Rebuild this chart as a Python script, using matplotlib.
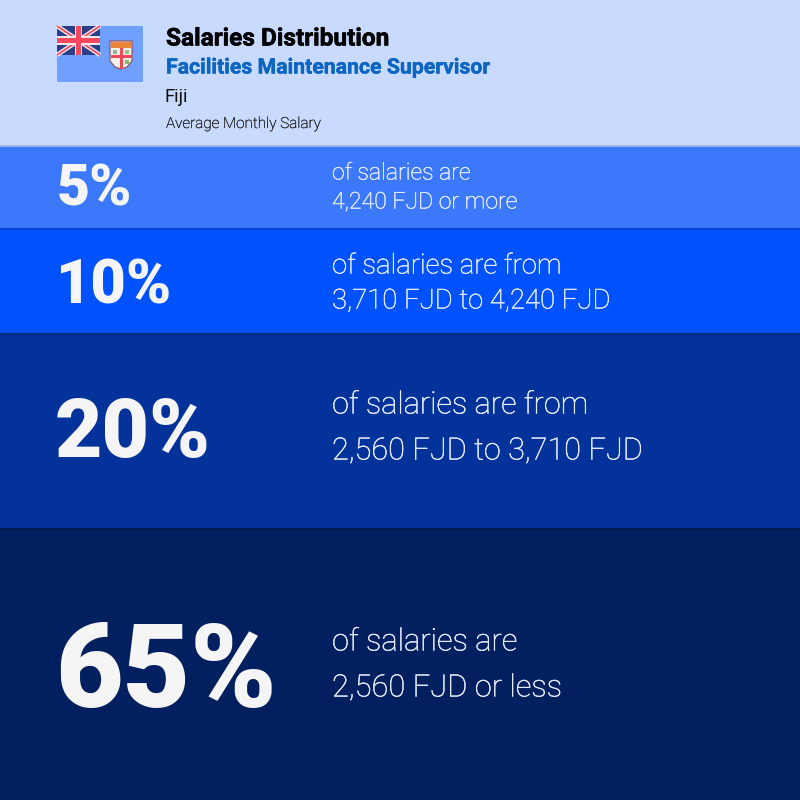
# -*- coding: utf-8 -*-
import matplotlib
matplotlib.use('Agg')
import matplotlib.pyplot as plt
import matplotlib.patheffects as pe
from matplotlib.patches import Rectangle, FancyBboxPatch, Polygon
from matplotlib.lines import Line2D

plt.rcParams['font.family'] = ['Roboto', 'DejaVu Sans']

# %% data
percents = ['5%', '10%', '20%', '65%']
line1 = ['of salaries are', 'of salaries are from', 'of salaries are from', 'of salaries are']
line2 = ['4,240 FJD or more', '3,710 FJD to 4,240 FJD', '2,560 FJD to 3,710 FJD', '2,560 FJD or less']
title = 'Salaries Distribution'
job = 'Facilities Maintenance Supervisor'
country = 'Fiji'
subtitle = 'Average Monthly Salary'

# %% layout, in pixels of the 800x800 picture
band_top = [146, 228, 333, 528]
band_bottom = [228, 333, 528, 800]
band_colors = ['#3b78fb', '#0052fe', '#03329b', '#02205f']
pct_sizes = [41, 44, 59, 84]
pct_x = [57, 55, 55, 55]
pct_y = [190, 287, 435, 675]
text_sizes = [16.6, 19.8, 22.1, 22.2]
line1_y = [173, 266, 405, 642]
line2_y = [202, 301, 451, 688]
text_color = '#e8eefb'

fig = plt.figure(figsize = (8, 8), dpi = 100)
ax = fig.add_axes([0, 0, 1, 1])
ax.set_xlim(0, 800)
ax.set_ylim(800, 0)
ax.axis('off')

# header
ax.add_patch(Rectangle((0, 0), 800, 146, color = '#c9daff', lw = 0))
ax.add_line(Line2D([0, 800], [146, 146], color = '#a9b9de', lw = 1.2, zorder = 5))

# bands
for i in range(len(percents)):
    ax.add_patch(Rectangle((0, band_top[i]), 800, band_bottom[i] - band_top[i], color = band_colors[i], lw = 0))
    if i > 0:
        ax.add_line(Line2D([0, 800], [band_top[i] + 0.5, band_top[i] + 0.5], color = 'black', lw = 1.5, alpha = 0.15, zorder = 5))
    ax.text(pct_x[i], pct_y[i], percents[i], color = '#f5f5f5', fontsize = pct_sizes[i], fontweight = 'black', va = 'center', ha = 'left')
    # light weight comes out too thin, a small stroke brings it closer
    for s, y in ((line1[i], line1_y[i]), (line2[i], line2_y[i])):
        t = ax.text(332, y, s, color = text_color, fontsize = text_sizes[i], fontweight = 'light', va = 'center', ha = 'left')
        t.set_path_effects([pe.Stroke(linewidth = 0.3, foreground = text_color), pe.Normal()])

# header text
t = ax.text(166, 39, title, color = 'black', fontsize = 17.6, fontweight = 'bold', va = 'center')
t.set_path_effects([pe.Stroke(linewidth = 0.4, foreground = 'black'), pe.Normal()])
t = ax.text(166, 68, job, color = '#0a66c2', fontsize = 15.3, fontweight = 'bold', va = 'center')
t.set_path_effects([pe.Stroke(linewidth = 0.3, foreground = '#0a66c2'), pe.Normal()])
ax.text(164.5, 97, country, color = '#111111', fontsize = 13.4, va = 'center')
t = ax.text(166, 124, subtitle, color = '#222222', fontsize = 11, fontweight = 'light', va = 'center')
t.set_path_effects([pe.Stroke(linewidth = 0.2, foreground = '#222222'), pe.Normal()])

# flag
ax.add_patch(FancyBboxPatch((57, 26), 86, 56, boxstyle = 'round,pad=0,rounding_size=1.5', color = '#6f9fff', lw = 0))
ax.add_patch(Rectangle((57, 26), 43, 29, color = '#2b3f87', lw = 0, zorder = 3))
ax.add_line(Line2D([57, 100], [26, 55], color = '#f5e6ea', lw = 3.2, zorder = 4, solid_capstyle = 'butt'))
ax.add_line(Line2D([57, 100], [55, 26], color = '#f5e6ea', lw = 3.2, zorder = 4, solid_capstyle = 'butt'))
ax.add_line(Line2D([57, 100], [26, 55], color = '#f0455a', lw = 1.2, zorder = 4, solid_capstyle = 'butt'))
ax.add_line(Line2D([57, 100], [55, 26], color = '#f0455a', lw = 1.2, zorder = 4, solid_capstyle = 'butt'))
ax.add_patch(Rectangle((75, 26), 7, 29, color = '#f5e6ea', lw = 0, zorder = 5))
ax.add_patch(Rectangle((57, 36), 43, 9, color = '#f5e6ea', lw = 0, zorder = 5))
ax.add_patch(Rectangle((76, 26), 5, 29, color = '#f9485e', lw = 0, zorder = 6))
ax.add_patch(Rectangle((57, 38), 43, 5, color = '#f9485e', lw = 0, zorder = 6))

# shield
ax.add_patch(Polygon([(110, 41), (132, 41), (132, 61), (127, 67), (121, 69), (115, 67), (110, 61)],
                     closed = True, facecolor = '#f4efe8', edgecolor = '#8a4a5a', lw = 0.8, zorder = 3))
ax.add_patch(Rectangle((110.5, 41.5), 21, 6.5, color = '#e8853a', lw = 0, zorder = 4))
ax.add_patch(Rectangle((119.5, 48), 3, 20.5, color = '#ee4a55', lw = 0, zorder = 4))
ax.add_patch(Rectangle((110.5, 55), 21, 3, color = '#ee4a55', lw = 0, zorder = 4))
ax.add_patch(Rectangle((113, 50), 4, 4, color = '#8fb59a', lw = 0, zorder = 4))
ax.add_patch(Rectangle((125, 50), 4, 4, color = '#9fc07a', lw = 0, zorder = 4))
ax.add_patch(Rectangle((125, 60), 4, 4, color = '#8fb56a', lw = 0, zorder = 4))

fig.savefig('out.png', dpi = 100)
